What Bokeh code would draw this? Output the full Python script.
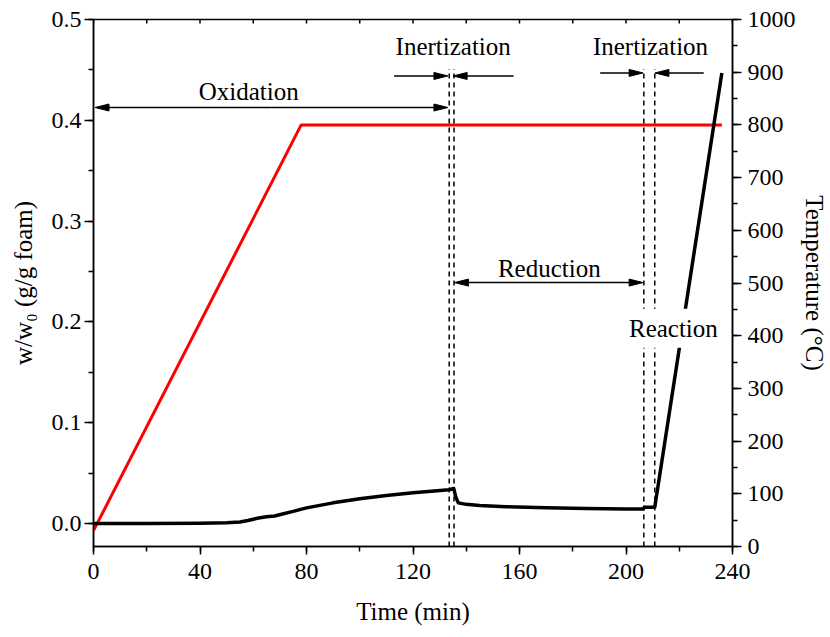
from bokeh.plotting import figure
from bokeh.models import Range1d, LinearAxis, FixedTicker, Label, PrintfTickFormatter
from bokeh.embed import file_html
from bokeh.resources import INLINE

# ---- data -------------------------------------------------------------
# normalised sample weight w/w0 (g/g foam) against time (min)
time_w = [0, 20, 40, 50, 55, 58, 62, 65, 68, 71, 75, 80, 90, 100, 110, 120, 128,
          133.5, 135.3, 136.0, 137.0, 140, 145, 155, 170, 185, 200, 206.4, 207.0,
          210.8, 236]
weight = [0.0, 0.0, 0.0003, 0.0008, 0.0015, 0.003, 0.0055, 0.0068, 0.0075, 0.0095,
          0.012, 0.0155, 0.0205, 0.0245, 0.0278, 0.0305, 0.0322, 0.0335, 0.0348,
          0.027, 0.0205, 0.019, 0.0178, 0.0167, 0.0157, 0.015, 0.0145, 0.0143,
          0.0162, 0.0162, 0.447]

# furnace temperature programme (°C)
time_T = [0, 78, 236]
temperature = [30, 800, 800]

# gas switching instants (min)
switch_times = [133.6, 135.4, 206.7, 210.8]
switch_top = 0.451

# phase arrows: level (w/w0), tail and tip (min)
arrow_level = [0.4127, 0.4127, 0.444, 0.444, 0.447, 0.447, 0.239, 0.239]
arrow_tail = [67.0, 67.0, 112.9, 157.8, 190.3, 229.2, 171.0, 171.0]
arrow_tip = [0.6, 133.1, 133.1, 135.1, 206.4, 210.9, 135.6, 206.4]

# phase names
phase_names = ["Oxidation", "Inertization", "Inertization", "Reduction"]
phase_t = [58.3, 135.1, 209.2, 171.2]
phase_w = [0.4286, 0.473, 0.473, 0.2533]
reaction_t, reaction_w = 217.8, 0.1938

x_ticks = [0, 40, 80, 120, 160, 200, 240]
x_minor = [0, 20, 40, 60, 80, 100, 120, 140, 160, 180, 200, 220, 240]
w_ticks = [0.0, 0.1, 0.2, 0.3, 0.4, 0.5]
w_minor = [0.0, 0.05, 0.1, 0.15, 0.2, 0.25, 0.3, 0.35, 0.4, 0.45, 0.5]
T_ticks = [0, 100, 200, 300, 400, 500, 600, 700, 800, 900, 1000]
T_minor = [v * 50 for v in range(21)]

W_MIN, W_MAX = -0.0228, 0.5
T_MAX = 240
FONT = "Liberation Serif"

# frame geometry used to size arrow heads and inner ticks in pixels
FRAME_W, FRAME_H = 643, 527
PX_T = FRAME_W / T_MAX
PX_W = FRAME_H / (W_MAX - W_MIN)

p = figure(width=830, height=637, output_backend="svg", toolbar_location=None,
           x_range=Range1d(0, T_MAX), y_range=Range1d(W_MIN, W_MAX),
           min_border_left=93, min_border_right=94, min_border_top=19,
           min_border_bottom=91)
p.extra_y_ranges = {"temp": Range1d(0, 1000)}
p.xgrid.visible = False
p.ygrid.visible = False
p.outline_line_color = "black"
p.outline_line_width = 1.5
p.background_fill_color = "white"
p.border_fill_color = "white"


def style_axis(ax, tick_out, minor_out, standoff):
    ax.axis_line_color = "black"
    ax.axis_line_width = 1.5
    ax.major_tick_line_color = "black"
    ax.major_tick_line_width = 1.5
    ax.minor_tick_line_color = "black"
    ax.minor_tick_line_width = 1.5
    ax.major_tick_in = 0
    ax.major_tick_out = tick_out
    ax.minor_tick_in = 0
    ax.minor_tick_out = minor_out
    ax.major_label_standoff = standoff
    ax.major_label_text_font = FONT
    ax.major_label_text_font_size = "24px"
    ax.major_label_text_color = "black"
    ax.axis_label_text_font = FONT
    ax.axis_label_text_font_size = "25px"
    ax.axis_label_text_font_style = "normal"
    ax.axis_label_text_color = "black"


xax = p.xaxis[0]
xax.ticker = FixedTicker(ticks=x_ticks, minor_ticks=x_minor)
style_axis(xax, 8, 5, 9)
xax.axis_label = "Time (min)"
xax.axis_label_standoff = 16

yax = p.yaxis[0]
yax.ticker = FixedTicker(ticks=w_ticks, minor_ticks=w_minor)
yax.formatter = PrintfTickFormatter(format="%.1f")
style_axis(yax, 9, 5, 3)
yax.axis_label = "w/w\u2080 (g/g foam)"
yax.axis_label_standoff = 12

rax = LinearAxis(y_range_name="temp",
                 ticker=FixedTicker(ticks=T_ticks, minor_ticks=T_minor))
style_axis(rax, 9, 5, 6)
rax.axis_label = "Temperature (°C)"
rax.axis_label_standoff = 2
p.add_layout(rax, "right")

# temperature programme and weight curve
p.line(time_T, temperature, y_range_name="temp", line_color="#ff0000", line_width=3)
p.line(time_w, weight, line_color="black", line_width=3.5, line_join="round")

# short inward ticks along the top edge of the frame
top_len = 4 / PX_W
p.segment(x0=x_minor, y0=[W_MAX] * len(x_minor), x1=x_minor,
          y1=[W_MAX - top_len] * len(x_minor), line_color="black", line_width=1.5)

# gas switching marks
p.segment(x0=switch_times, y0=[W_MIN] * len(switch_times), x1=switch_times,
          y1=[switch_top] * len(switch_times), line_color="black",
          line_width=1.5, line_dash="5 4")

# phase arrows with slender filled heads
HEAD_LEN, HEAD_HALF = 14, 3.5
shaft_x0, shaft_x1, shaft_y = [], [], []
head_xs, head_ys = [], []
for lvl, tail, tip in zip(arrow_level, arrow_tail, arrow_tip):
    sgn = 1 if tip > tail else -1
    base = tip - sgn * HEAD_LEN / PX_T
    shaft_x0.append(tail)
    shaft_x1.append(base)
    shaft_y.append(lvl)
    h = HEAD_HALF / PX_W
    head_xs.append([tip, base, base])
    head_ys.append([lvl, lvl + h, lvl - h])
p.segment(x0=shaft_x0, y0=shaft_y, x1=shaft_x1, y1=shaft_y, line_color="black",
          line_width=1.5)
p.patches(head_xs, head_ys, fill_color="black", line_color="black", line_width=1)

for name, t, w in zip(phase_names, phase_t, phase_w):
    p.add_layout(Label(x=t, y=w, text=name, text_align="center",
                       text_baseline="alphabetic", text_font=FONT,
                       text_font_size="25px", text_color="black"))

p.add_layout(Label(x=reaction_t, y=reaction_w, text="Reaction", text_align="center",
                   text_baseline="alphabetic", text_font=FONT, text_font_size="25px",
                   text_color="black", background_fill_color="white",
                   background_fill_alpha=1.0, padding=6))

open("out.html", "w").write(file_html(p, INLINE))
